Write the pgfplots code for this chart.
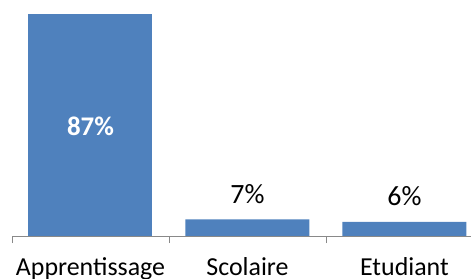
\documentclass[border=0pt]{standalone}
\usepackage{pgfplots}
\pgfplotsset{compat=1.18}
\usepackage{fontspec}
\setmainfont{Carlito}
\definecolor{barblue}{HTML}{4F81BD}
\definecolor{axgray}{HTML}{898989}
\begin{document}
\begin{tikzpicture}
\path[use as bounding box] (0,0) rectangle (471bp,279bp);
\begin{axis}[
  at={(12bp,43bp)}, anchor=south west,
  scale only axis,
  width=459bp, height=236bp,
  xmin=-0.5, xmax=2.424,
  ymin=0, ymax=92.28,
  clip=false,
  axis x line*=bottom,
  hide y axis,
  axis line style={axgray, line width=0.8pt},
  xtick={0,1,2},
  xticklabels={Apprentissage,Scolaire,Etudiant},
  major tick length=0pt,
  extra x ticks={-0.5,0.5,1.5},
  extra x tick labels={},
  extra x tick style={major tick length=7bp, tick align=outside, tick style={axgray, line width=0.8pt}},
  xticklabel style={anchor=base, yshift=-39bp, font=\fontsize{26}{30}\selectfont, text=black},
  ybar, bar width=124bp, bar shift=0pt,
]
\addplot[fill=barblue, draw=none,
  nodes near coords, point meta=explicit symbolic,
  nodes near coords style={anchor=center, yshift=-112.5bp, text=white, font=\fontsize{27}{30}\selectfont\bfseries}]
  coordinates {(0,87) [87\%]};
\addplot[fill=barblue, draw=none,
  nodes near coords, point meta=explicit symbolic,
  nodes near coords style={anchor=base, yshift=16bp, text=black, font=\fontsize{28}{30}\selectfont}]
  coordinates {(1,6.5) [7\%] (2,5.5) [6\%]};
\end{axis}
\end{tikzpicture}
\end{document}
